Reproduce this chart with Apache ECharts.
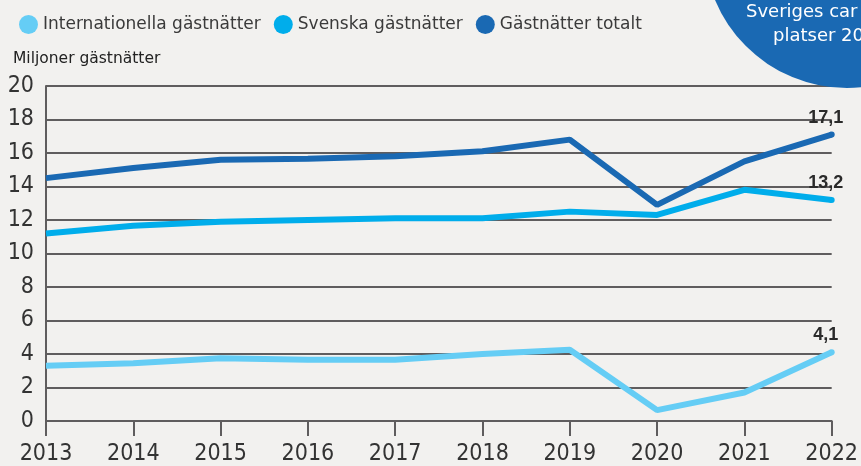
<!DOCTYPE html>
<html>
<head>
<meta charset="utf-8">
<script src="https://cdn.jsdelivr.net/npm/echarts@6/dist/echarts.min.js"></script>
<style>
  html, body { margin: 0; padding: 0; background: #f2f1ef; }
  #chart { width: 861px; height: 466px; }
</style>
</head>
<body>
<div id="chart"></div>
<script>
// år på x-axeln
const years = ['2013', '2014', '2015', '2016', '2017', '2018', '2019', '2020', '2021', '2022'];
// miljoner gästnätter
const internationella = [3.3, 3.45, 3.75, 3.65, 3.65, 4.0, 4.25, 0.65, 1.7, 4.1];
const svenska = [11.2, 11.65, 11.9, 12.0, 12.1, 12.1, 12.5, 12.3, 13.8, 13.2];
const totalt = [14.5, 15.1, 15.6, 15.65, 15.8, 16.1, 16.8, 12.9, 15.5, 17.1];
const seriesNames = ['Internationella gästnätter', 'Svenska gästnätter', 'Gästnätter totalt'];
const colors = ['#65cdf5', '#00adeb', '#1a69b3'];

const axisFont = '"DejaVu Sans Condensed", "Liberation Sans Narrow", Roboto, sans-serif';
const chart = echarts.init(document.getElementById('chart'));
const last = years.length - 1;

function buildSeries(name, values, color) {
  return {
    name: name,
    type: 'line',
    symbol: 'circle',
    symbolSize: (v, p) => (p.dataIndex === last ? 6 : 0),
    lineStyle: { color: color, width: 6 },
    itemStyle: { color: color },
    label: {
      show: false,
      position: 'top',
      offset: [-6, 0],
      color: '#2a2a2a',
      fontFamily: 'Liberation Sans',
      fontWeight: 'bold',
      fontSize: 18,
      formatter: (p) => String(p.value).replace('.', ',')
    },
    data: values.map((v, i) => (i === last ? { value: v, label: { show: true } } : v))
  };
}

chart.setOption({
  animation: false,
  backgroundColor: '#f2f1ef',
  color: colors,
  legend: {
    left: 14,
    top: 10,
    icon: 'circle',
    itemWidth: 19,
    itemHeight: 19,
    itemGap: 13,
    textStyle: { color: '#3a3a3a', fontFamily: 'DejaVu Sans', fontSize: 17 },
    data: seriesNames
  },
  graphic: [
    { type: 'circle', shape: { cx: 847, cy: -55, r: 143 }, style: { fill: '#1a69b3' }, z: 10 },
    { type: 'text', left: 746, top: 3, z: 11,
      style: { text: 'Sveriges car', fill: '#fff', font: '18px "DejaVu Sans"' } },
    { type: 'text', left: 773, top: 27, z: 11,
      style: { text: 'platser 20', fill: '#fff', font: '18px "DejaVu Sans"' } },
    { type: 'text', left: 13, top: 51,
      style: { text: 'Miljoner gästnätter', fill: '#222', font: '15.5px "DejaVu Sans"' } }
  ],
  grid: { left: 46, right: 27, top: 86, bottom: 44, containLabel: false },
  xAxis: {
    type: 'category',
    boundaryGap: false,
    data: years,
    axisLine: { lineStyle: { color: '#5f5d5e', width: 2 } },
    axisTick: { show: true, length: 15, lineStyle: { color: '#5f5d5e', width: 2 } },
    axisLabel: {
      color: '#333',
      fontFamily: axisFont,
      fontSize: 23,
      margin: 22,
      interval: 0
    }
  },
  yAxis: {
    type: 'value',
    min: 0,
    max: 20,
    interval: 2,
    axisLine: { show: true, lineStyle: { color: '#5f5d5e', width: 2 } },
    axisTick: { show: false },
    splitLine: { lineStyle: { color: '#5f5d5e', width: 2 } },
    axisLabel: {
      color: '#333',
      fontFamily: axisFont,
      fontSize: 23,
      margin: 12,
      padding: [7, 0, 0, 0]
    }
  },
  series: [
    buildSeries(seriesNames[0], internationella, colors[0]),
    buildSeries(seriesNames[1], svenska, colors[1]),
    buildSeries(seriesNames[2], totalt, colors[2])
  ]
});
</script>
</body>
</html>
